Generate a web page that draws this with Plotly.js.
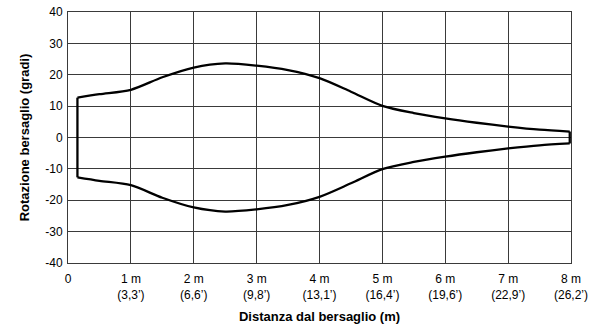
<!DOCTYPE html>
<html><head><meta charset="utf-8">
<script src="https://cdn.plot.ly/plotly-3.0.1.min.js"></script>
<style>html,body{margin:0;padding:0;background:#fff;}#chart{width:602px;height:329px;}</style>
</head><body><div id="chart"></div>
<script>
// Data
const distanza = [0.15, 0.5, 1, 1.5, 2, 2.5, 3, 3.5, 4, 4.5, 5, 5.5, 6, 6.5, 7, 7.5, 7.98];
const rotazioneSup = [12.7, 13.8, 15.2, 19.2, 22.3, 23.6, 22.9, 21.5, 18.9, 14.6, 10.1, 7.8, 6.1, 4.7, 3.5, 2.5, 1.9];
const rotazioneInf = [-12.7, -13.8, -15.2, -19.2, -22.3, -23.6, -22.9, -21.5, -18.9, -14.6, -10.1, -7.8, -6.1, -4.7, -3.5, -2.5, -1.9];
const tickVals = [0, 1, 2, 3, 4, 5, 6, 7, 8];
const tickText = ["0", "1 m<br>(3,3’)", "2 m<br>(6,6’)", "3 m<br>(9,8’)", "4 m<br>(13,1’)", "5 m<br>(16,4’)", "6 m<br>(19,6’)", "7 m<br>(22,9’)", "8 m<br>(26,2’)"];
const yTicks = [-40, -30, -20, -10, 0, 10, 20, 30, 40];
const yTickText = ["-40", "-30", "-20", "-10", "0", "10", "20", "30", "40"];

const n = distanza.length;
const lineStyle = {color: '#000', width: 2.3};
const traces = [
  {x: distanza, y: rotazioneSup, mode: 'lines', line: Object.assign({shape: 'spline', smoothing: 0.8}, lineStyle), hoverinfo: 'skip'},
  {x: distanza, y: rotazioneInf, mode: 'lines', line: Object.assign({shape: 'spline', smoothing: 0.8}, lineStyle), hoverinfo: 'skip'},
  {x: [distanza[0], distanza[0]], y: [rotazioneSup[0], rotazioneInf[0]], mode: 'lines', line: lineStyle, hoverinfo: 'skip'},
  {x: [distanza[n-1], distanza[n-1]], y: [rotazioneSup[n-1], rotazioneInf[n-1]], mode: 'lines', line: lineStyle, hoverinfo: 'skip'}
];

const font = "'Liberation Sans', Arial, sans-serif";
const layout = {
  width: 602, height: 329,
  margin: {l: 68, r: 31, t: 12, b: 66},
  showlegend: false,
  paper_bgcolor: '#fff', plot_bgcolor: '#fff',
  font: {family: font, size: 12, color: '#000'},
  xaxis: {
    range: [0, 8], tickvals: tickVals, ticktext: tickText, tickmode: 'array',
    showgrid: true, gridcolor: '#3a3a3a', gridwidth: 1,
    showline: true, linecolor: '#3a3a3a', linewidth: 1, mirror: true,
    zeroline: false, ticks: 'outside', ticklen: 5, tickcolor: 'rgba(0,0,0,0)',
    tickfont: {family: font, size: 12},
    title: {text: '<b>Distanza dal bersaglio (m)</b>', font: {family: font, size: 13}, standoff: 10}
  },
  yaxis: {
    range: [-40, 40], tickvals: yTicks, ticktext: yTickText, tickmode: 'array',
    showgrid: true, gridcolor: '#3a3a3a', gridwidth: 1,
    showline: true, linecolor: '#3a3a3a', linewidth: 1, mirror: true,
    zeroline: false, ticks: 'outside', ticklen: 2, tickcolor: 'rgba(0,0,0,0)',
    tickfont: {family: font, size: 12},
    title: {text: '<b>Rotazione bersaglio (gradi)</b>', font: {family: font, size: 13}, standoff: 12}
  }
};
Plotly.newPlot('chart', traces, layout, {staticPlot: true, displayModeBar: false});
</script></body></html>
